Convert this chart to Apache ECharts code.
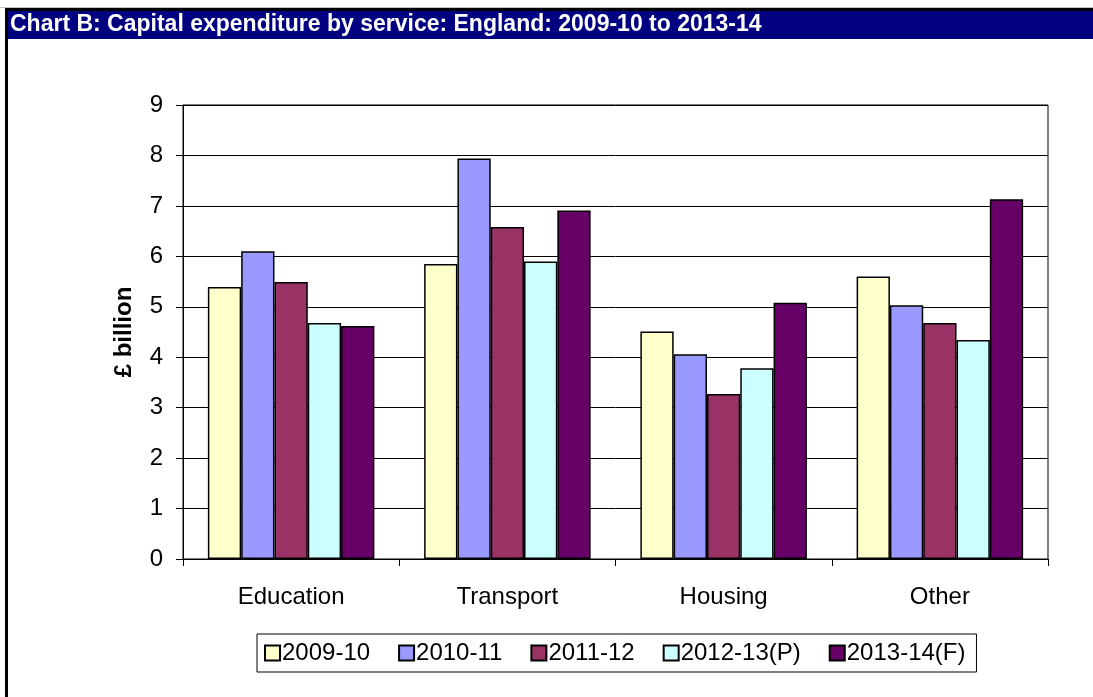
<!DOCTYPE html>
<html>
<head>
    <meta charset="UTF-8">
    <title>Chart B: Capital expenditure by service</title>
    <script src="https://cdn.jsdelivr.net/npm/echarts@6/dist/echarts.min.js"></script>
    <style>
        html, body { margin: 0; padding: 0; background: #fff; }
        #chart { width: 1093px; height: 697px; }
    </style>
</head>
<body>
<div id="chart"></div>
<script>
    // data (£ billion)
    var services = ['Education', 'Transport', 'Housing', 'Other'];
    var years = ['2009-10', '2010-11', '2011-12', '2012-13(P)', '2013-14(F)'];
    var y2009 = [5.39, 5.85, 4.51, 5.60];
    var y2010 = [6.10, 7.94, 4.06, 5.03];
    var y2011 = [5.49, 6.58, 3.27, 4.68];
    var y2012 = [4.68, 5.90, 3.78, 4.34];
    var y2013 = [4.62, 6.91, 5.08, 7.13];
    var colours = ['#FFFFCC', '#9999FF', '#993366', '#CCFFFF', '#660066'];

    var font = 'Arial, "Liberation Sans", sans-serif';
    var allData = [y2009, y2010, y2011, y2012, y2013];

    var series = [];
    for (var i = 0; i < years.length; i++) {
        series.push({
            name: years[i],
            type: 'bar',
            data: allData[i],
            barGap: '0%',
            barCategoryGap: '23%',
            itemStyle: { color: colours[i], borderColor: '#000', borderWidth: 1.5 }
        });
    }

    var myChart = echarts.init(document.getElementById('chart'));
    var option = {
        animation: false,
        textStyle: { fontFamily: font },
        graphic: [
            // title bar + frame
            { type: 'rect', shape: { x: 0, y: 7, width: 1093, height: 1 }, style: { fill: '#c0c0c0' } },
            { type: 'rect', shape: { x: 5, y: 8, width: 1088, height: 3 }, style: { fill: '#000' } },
            { type: 'rect', shape: { x: 5, y: 8, width: 3, height: 689 }, style: { fill: '#000' } },
            { type: 'rect', shape: { x: 8, y: 11, width: 1085, height: 28 }, style: { fill: '#000080' } },
            {
                type: 'text', left: 10, top: 13,
                style: {
                    text: 'Chart B: Capital expenditure by service: England: 2009-10 to 2013-14',
                    fill: '#fff', font: 'bold 23px ' + font
                }
            }
        ],
        legend: {
            data: years,
            left: 257,
            top: 634,
            padding: [7, 11, 7, 7],
            itemGap: 28,
            itemWidth: 15,
            itemHeight: 15,
            borderColor: '#000',
            borderWidth: 1,
            icon: 'rect',
            textStyle: { fontSize: 24, color: '#000', fontFamily: font, padding: [0, 0, 0, -3] }
        },
        grid: {
            left: 183,
            right: 45,
            top: 105,
            bottom: 138,
            show: true,
            borderColor: '#000',
            borderWidth: 1
        },
        xAxis: {
            type: 'category',
            data: services,
            axisLine: { lineStyle: { color: '#000', width: 1 } },
            axisTick: { show: true, length: 7, lineStyle: { color: '#000' } },
            axisLabel: { fontSize: 24, color: '#000', margin: 26, fontFamily: font }
        },
        yAxis: {
            type: 'value',
            min: 0,
            max: 9,
            interval: 1,
            name: '£ billion',
            nameLocation: 'middle',
            nameGap: 47,
            nameTextStyle: { fontSize: 24, fontWeight: 'bold', color: '#000', fontFamily: font },
            axisLine: { show: true, lineStyle: { color: '#000', width: 1 } },
            axisTick: { show: true, length: 7, lineStyle: { color: '#000' } },
            axisLabel: { fontSize: 24, color: '#000', margin: 20, fontFamily: font },
            splitLine: { show: true, lineStyle: { color: '#000', width: 1 } }
        },
        series: series
    };
    myChart.setOption(option);
</script>
</body>
</html>
